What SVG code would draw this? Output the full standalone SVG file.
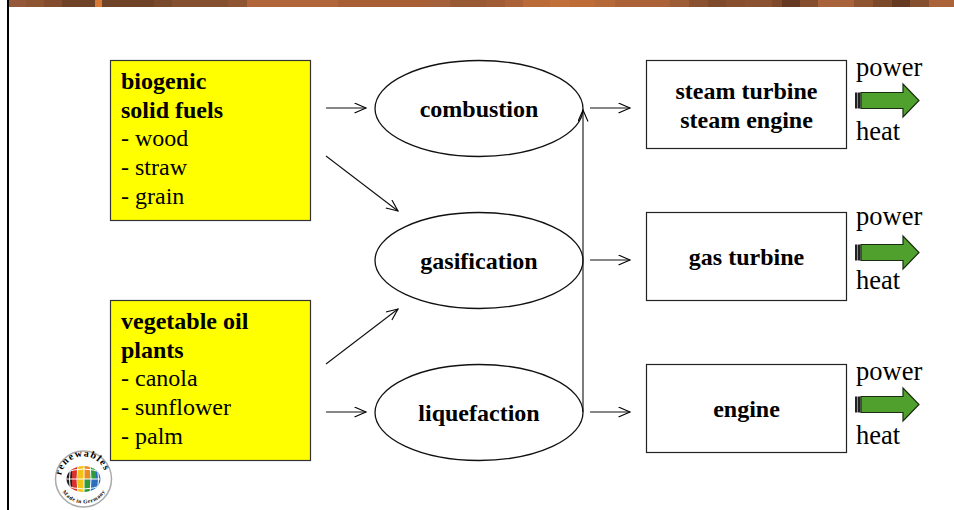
<svg xmlns="http://www.w3.org/2000/svg" width="954" height="510" viewBox="0 0 954 510">
<defs>
<marker id="a" markerWidth="14" markerHeight="12" refX="12.500" refY="5.500" orient="auto" markerUnits="userSpaceOnUse"><path d="M1 .5L12.500 5.500L1 10.500" fill="none" stroke="#000" stroke-width="1.100"/></marker>
<g id="out"><rect x="0" y="-8" width="2.500" height="16" fill="#222"/><rect x="3" y="-8" width="2.500" height="16" fill="#222"/><path d="M6-8H48V-16.500L64 0L48 16.500V8H6Z" fill="#4fa02d" stroke="#1c2c14" stroke-width="1.200"/></g>
<clipPath id="globe"><ellipse cx="83.500" cy="479" rx="17" ry="13"/></clipPath>
<path id="top" d="M61 481A22.500 22.500 0 0 1 106 477"/>
<path id="bot" d="M61.500 479A22.500 24 0 0 0 106 479"/>
</defs>
<style>
text{font-family:"Liberation Serif",serif;fill:#000}
.t{font-size:24px}
.b{font-size:24px;font-weight:700;text-anchor:middle}
.f{font-size:24px;font-weight:700}
.l{font-size:26.500px}
.box{fill:#fff;stroke:#222;stroke-width:1.200}
.y{fill:#ff0;stroke:#333;stroke-width:1.200}
.el{fill:#fff;stroke:#111;stroke-width:1.300}
.c{fill:none;stroke:#111;stroke-width:1.100;marker-end:url(#a)}
</style>
<rect width="954" height="510" fill="#fff"/>
<g id="banner">
<rect x="9" y="0" width="18" height="7" fill="#96583a"/><rect x="26" y="0" width="19" height="7" fill="#8e5533"/><rect x="44" y="0" width="19" height="7" fill="#834c2e"/><rect x="62" y="0" width="33" height="7" fill="#6f4328"/><rect x="95" y="0" width="7" height="7" fill="#d67a35"/><rect x="102" y="0" width="52" height="7" fill="#6f4328"/><rect x="154" y="0" width="18" height="7" fill="#794a2b"/><rect x="172" y="0" width="56" height="7" fill="#85502f"/><rect x="228" y="0" width="19" height="7" fill="#8f5533"/><rect x="247" y="0" width="91" height="7" fill="#b0663a"/><rect x="338" y="0" width="92" height="7" fill="#a85f35"/><rect x="430" y="0" width="20" height="7" fill="#a4603a"/><rect x="450" y="0" width="36" height="7" fill="#975a34"/><rect x="486" y="0" width="19" height="7" fill="#a05c35"/><rect x="505" y="0" width="18" height="7" fill="#ab6238"/><rect x="523" y="0" width="27" height="7" fill="#bb6b37"/><rect x="550" y="0" width="20" height="7" fill="#c2703a"/><rect x="570" y="0" width="25" height="7" fill="#bd6c38"/><rect x="595" y="0" width="20" height="7" fill="#b56838"/><rect x="615" y="0" width="55" height="7" fill="#ab6238"/><rect x="670" y="0" width="19" height="7" fill="#9c5c35"/><rect x="689" y="0" width="19" height="7" fill="#8b5232"/><rect x="708" y="0" width="18" height="7" fill="#7f4a2c"/><rect x="726" y="0" width="19" height="7" fill="#874f2e"/><rect x="745" y="0" width="27" height="7" fill="#8b5232"/><rect x="772" y="0" width="10" height="7" fill="#7f4a2c"/><rect x="782" y="0" width="18" height="7" fill="#663a22"/><rect x="800" y="0" width="18" height="7" fill="#854e2e"/><rect x="818" y="0" width="36" height="7" fill="#a9633a"/><rect x="854" y="0" width="19" height="7" fill="#8f5531"/><rect x="873" y="0" width="19" height="7" fill="#7d492b"/><rect x="892" y="0" width="18" height="7" fill="#653a22"/><rect x="910" y="0" width="19" height="7" fill="#85502f"/><rect x="929" y="0" width="25" height="7" fill="#ab643a"/>
</g>
<rect id="frame" x="7" y="0" width="2" height="510" fill="#000"/>
<g id="biogenic"><rect class="y" x="110.500" y="60.500" width="200" height="160"/><text class="f" x="121" y="89">biogenic</text><text class="f" x="121" y="118">solid fuels</text><text class="t" x="121" y="146">- wood</text><text class="t" x="121" y="175">- straw</text><text class="t" x="121" y="204">- grain</text></g>
<g id="vegetable"><rect class="y" x="110.500" y="300.500" width="200" height="160"/><text class="f" x="121" y="329">vegetable oil</text><text class="f" x="121" y="358">plants</text><text class="t" x="121" y="386">- canola</text><text class="t" x="121" y="415">- sunflower</text><text class="t" x="121" y="444">- palm</text></g>
<g id="combustion"><ellipse class="el" cx="479" cy="108.500" rx="104" ry="48"/><text class="b" x="479" y="117">combustion</text></g>
<g id="gasification"><ellipse class="el" cx="479" cy="260.500" rx="104" ry="48"/><text class="b" x="479" y="269">gasification</text></g>
<g id="liquefaction"><ellipse class="el" cx="479" cy="412.500" rx="104" ry="48"/><text class="b" x="479" y="421">liquefaction</text></g>
<g id="steam"><rect class="box" x="646.500" y="60.500" width="200" height="88"/><text class="b" x="746.500" y="99">steam turbine</text><text class="b" x="746.500" y="128">steam engine</text></g>
<g id="gas"><rect class="box" x="646.500" y="212.500" width="200" height="88"/><text class="b" x="746.500" y="265">gas turbine</text></g>
<g id="engine"><rect class="box" x="646.500" y="364.500" width="200" height="88"/><text class="b" x="746.500" y="417">engine</text></g>
<g id="connectors">
<line class="c" x1="326" y1="108" x2="366" y2="108"/>
<line class="c" x1="326" y1="156" x2="398" y2="211"/>
<line class="c" x1="326" y1="364" x2="398" y2="309"/>
<line class="c" x1="326" y1="412" x2="366" y2="412"/>
<line class="c" x1="590" y1="108" x2="630" y2="108"/>
<line class="c" x1="590" y1="260" x2="630" y2="260"/>
<line class="c" x1="590" y1="412" x2="630" y2="412"/>
<line class="c" x1="583" y1="412" x2="583" y2="110"/>
</g>
<g id="out1"><text class="l" x="856" y="76">power</text><use href="#out" x="855" y="100.500"/><text class="l" x="856" y="140">heat</text></g>
<g id="out2"><text class="l" x="856" y="225">power</text><use href="#out" x="855" y="252.500"/><text class="l" x="856" y="289">heat</text></g>
<g id="out3"><text class="l" x="856" y="380">power</text><use href="#out" x="855" y="404.500"/><text class="l" x="856" y="444">heat</text></g>
<g id="logo"><circle cx="83.500" cy="479" r="28" fill="#fff" stroke="#aaa" stroke-width="1.500"/>
<g clip-path="url(#globe)"><rect x="66" y="465" width="6" height="28" fill="#222"/><rect x="72" y="465" width="6" height="28" fill="#d8322c"/><rect x="78" y="465" width="6" height="28" fill="#f3c316"/><rect x="84" y="465" width="6" height="14" fill="#e98b1f"/><rect x="84" y="479" width="6" height="14" fill="#2f9a3c"/><rect x="90" y="465" width="6" height="14" fill="#2f9a3c"/><rect x="90" y="479" width="6" height="14" fill="#2a6fb8"/><rect x="96" y="465" width="6" height="28" fill="#2a6fb8"/><path d="M64 473Q83.500 465 103 473M64 485Q83.500 493 103 485M64 479H103M72 463Q67 479 72 495M78 463Q76 479 78 495M84 463V495M90 463Q92 479 90 495M96 463Q101 479 96 495" fill="none" stroke="#fff" stroke-width="1"/></g>
<text font-size="10" font-weight="700" letter-spacing="1.200" text-anchor="middle"><textPath href="#top" startOffset="50%">renewables</textPath></text>
<text font-size="5.500" font-weight="700" fill="#333" text-anchor="middle" dominant-baseline="hanging"><textPath href="#bot" startOffset="50%">Made in Germany</textPath></text></g>
</svg>
